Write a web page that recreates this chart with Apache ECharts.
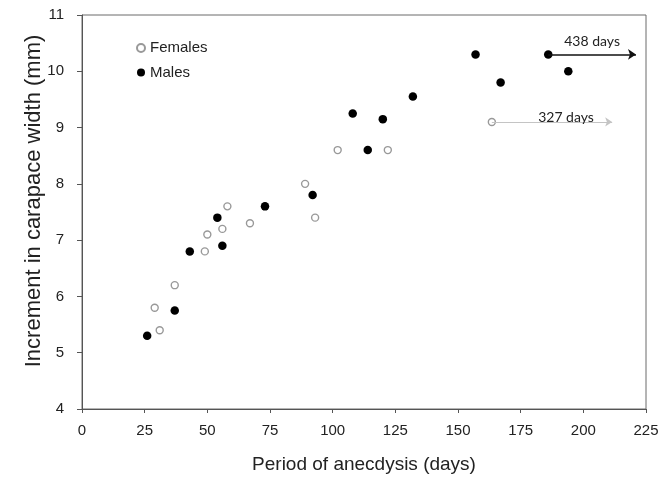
<!DOCTYPE html>
<html>
<head>
<meta charset="utf-8">
<script src="https://cdn.jsdelivr.net/npm/echarts@6/dist/echarts.min.js"></script>
<style>html,body{margin:0;padding:0;background:#fff;}#c{width:663px;height:479px;}</style>
</head>
<body>
<div id="c"></div>
<script>
// Data (days, increment mm)
var femalesX = [29, 31, 37, 49, 50, 56, 58, 67, 89, 93, 102, 122, 163.5];
var femalesY = [5.8, 5.4, 6.2, 6.8, 7.1, 7.2, 7.6, 7.3, 8.0, 7.4, 8.6, 8.6, 9.1];
var malesX = [26, 37, 43, 54, 56, 73, 92, 108, 114, 120, 132, 157, 167, 186, 194];
var malesY = [5.3, 5.75, 6.8, 7.4, 6.9, 7.6, 7.8, 9.25, 8.6, 9.15, 9.55, 10.3, 9.8, 10.3, 10.0];
// Arrows for points beyond axis range: [startX, endX, y, label]
var arrowMale = [186, 221, 10.3, '438 days'];
var arrowFemale = [163.5, 211.5, 9.1, '327 days'];
var xTicks = [0, 225, 25];
var yTicks = [4, 11, 1];

function pairs(xs, ys) { return xs.map(function (x, i) { return [x, ys[i]]; }); }

var chart = echarts.init(document.getElementById('c'));
var font = 'Liberation Sans, Arial, sans-serif';
chart.setOption({
  animation: false,
  backgroundColor: '#fff',
  grid: { left: 82, right: 17, top: 15, bottom: 66, show: true, borderColor: '#6a6a6a', borderWidth: 1 },
  legend: {
    orient: 'vertical', left: 136, top: 40, padding: 0, itemGap: 8.5,
    itemWidth: 8, itemHeight: 8,
    textStyle: { fontFamily: font, fontSize: 15, color: '#222', lineHeight: 16 },
    data: [{ name: 'Females', icon: 'circle' }, { name: 'Males', icon: 'circle' }]
  },
  xAxis: {
    type: 'value', min: xTicks[0], max: xTicks[1], interval: xTicks[2],
    name: 'Period of anecdysis (days)', nameLocation: 'middle', nameGap: 46, nameMoveOverlap: false,
    nameTextStyle: { fontFamily: font, fontSize: 19, color: '#222' },
    axisLine: { lineStyle: { color: '#555', width: 1 } },
    axisTick: { show: true, inside: false, length: 4, lineStyle: { color: '#555' } },
    axisLabel: { fontFamily: font, fontSize: 15, color: '#222', margin: 14 },
    splitLine: { show: false }
  },
  yAxis: {
    type: 'value', min: yTicks[0], max: yTicks[1], interval: yTicks[2],
    name: 'Increment in carapace width (mm)', nameLocation: 'middle', nameGap: 37, nameMoveOverlap: false,
    nameTextStyle: { fontFamily: font, fontSize: 22, color: '#222', padding: [0, 0, 0, 22] },
    axisLine: { show: true, lineStyle: { color: '#555', width: 1 } },
    axisTick: { show: true, inside: false, length: 5, lineStyle: { color: '#555' } },
    axisLabel: { fontFamily: font, fontSize: 15, color: '#222', margin: 18 },
    splitLine: { show: false }
  },
  series: [
    {
      name: 'Females', type: 'scatter', symbol: 'circle', symbolSize: 7,
      itemStyle: { color: '#fff', borderColor: '#999', borderWidth: 1.4, opacity: 1 },
      data: pairs(femalesX, femalesY),
      markLine: {
        silent: true, symbol: ['none', 'arrow'], symbolSize: 7,
        lineStyle: { color: '#c4c4c4', width: 1, type: 'solid' },
        label: { show: true, position: 'middle', formatter: arrowFemale[3], fontFamily: 'Lato, sans-serif', fontSize: 14, color: '#222', distance: -3, offset: [14, 0] },
        data: [[{ coord: [arrowFemale[0], arrowFemale[2]] }, { coord: [arrowFemale[1], arrowFemale[2]] }]]
      }
    },
    {
      name: 'Males', type: 'scatter', symbol: 'circle', symbolSize: 8.5,
      itemStyle: { color: '#000', opacity: 1 },
      data: pairs(malesX, malesY),
      markLine: {
        silent: true, symbol: ['none', 'arrow'], symbolSize: 8,
        lineStyle: { color: '#111', width: 1.5, type: 'solid' },
        label: { show: true, position: 'middle', formatter: arrowMale[3], fontFamily: 'Lato, sans-serif', fontSize: 14, color: '#222', distance: 6 },
        data: [[{ coord: [arrowMale[0], arrowMale[2]] }, { coord: [arrowMale[1], arrowMale[2]] }]]
      }
    }
  ]
});
</script>
</body>
</html>
